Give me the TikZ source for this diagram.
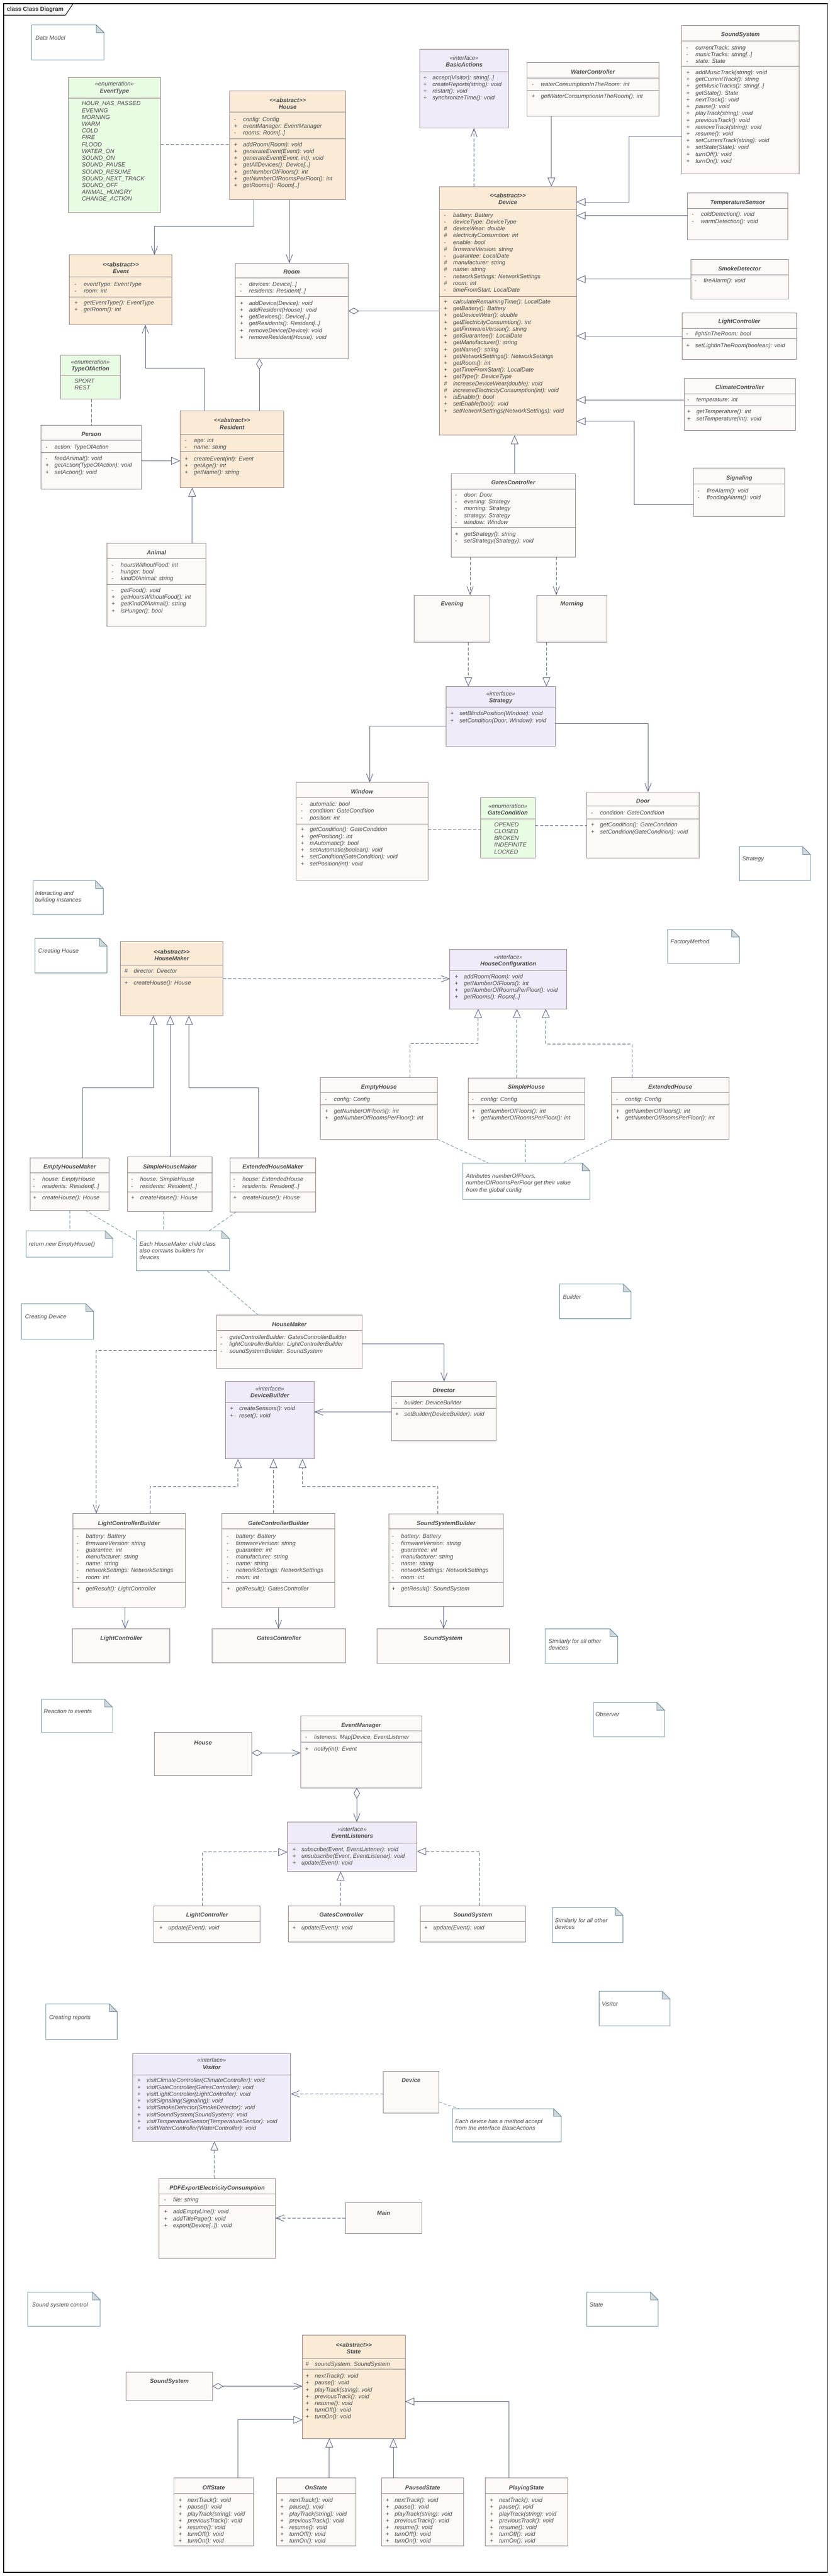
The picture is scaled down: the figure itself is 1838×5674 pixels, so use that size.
\documentclass[tikz,border=0pt]{standalone}
\usepackage{fontspec}
\newfontfamily\umlfont{Liberation Sans}
\usetikzlibrary{arrows.meta,calc}
\definecolor{clsline}{HTML}{8E7F83}
\definecolor{plainfill}{HTML}{FDF9F6}
\definecolor{abstfill}{HTML}{FAEAD6}
\definecolor{intffill}{HTML}{EFEBF8}
\definecolor{enumfill}{HTML}{E8FBE3}
\definecolor{linkc}{HTML}{5D6684}
\definecolor{notec}{HTML}{6B8FA0}
\definecolor{foldc}{HTML}{D4D8DB}
\definecolor{txtc}{HTML}{4B4B4B}
\definecolor{tipfill}{HTML}{FBF8F8}
\newcommand\vv[1]{\makebox[20pt][l]{\upshape #1}}
\newcommand\vP{\vv{+}}
\newcommand\vM{\vv{-}}
\newcommand\vH{\vv{\#}}
\newcommand\rows[1]{\begin{tabular}[t]{@{}l@{}}#1\end{tabular}}
\newcommand\hd[2]{\begin{tabular}[t]{@{}c@{}}#1\\#2\end{tabular}}
\newcommand\stp[1]{{\mdseries #1}}
\newcommand\ubox[6]{\pgfmathsetmacro\bw{#5-#3}\pgfmathsetmacro\bh{#6-#4}%
  \node[ubase,#2,minimum width=\bw pt,minimum height=\bh pt] (#1) at (#3,#4) {};}
\newcommand\usep[2]{\draw[usepl] (#1.west |- 0,#2) -- (#1.east |- 0,#2);}
\newcommand\unote[5]{\pgfmathsetmacro\bw{#4-#2}\pgfmathsetmacro\bh{#5-#3}%
  \node[anchor=north west,inner sep=0pt,outer sep=0pt,minimum width=\bw pt,minimum height=\bh pt] (#1) at (#2,#3) {};
  \draw[notel,fill=white] (#1.north west) -- ($(#1.north east)+(-17,0)$) -- ($(#1.north east)+(0,17)$) -- (#1.south east) -- (#1.south west) -- cycle;
  \draw[notel,fill=foldc,line join=round] ($(#1.north east)+(-17,0)$) -- ($(#1.north east)+(-17,17)$) -- ($(#1.north east)+(0,17)$) -- cycle;}
\tikzset{
 ubase/.style={anchor=north west,inner sep=0pt,outer sep=0pt,draw=clsline,line width=1.1pt},
 cplain/.style={fill=plainfill}, cabst/.style={fill=abstfill}, cintf/.style={fill=intffill}, cenum/.style={fill=enumfill},
 usepl/.style={draw=clsline,line width=1.1pt},
 uhead/.style={anchor=base,inner sep=0pt,text=txtc,font=\umlfont\bfseries\itshape\fontsize{12.8}{15}\selectfont},
 umem/.style={anchor=base west,inner sep=0pt,text=txtc,font=\umlfont\itshape\fontsize{12.8}{15}\selectfont},
 lnk/.style={draw=linkc,line width=1.1pt},
 dsh/.style={dash pattern=on 7pt off 4pt},
 assoc/.style={lnk,-{Straight Barb[length=18pt,width=14pt]}},
 gen/.style={lnk,-{Triangle[length=20pt,width=17pt,fill=tipfill]}},
 real/.style={lnk,dsh,-{Triangle[length=20pt,width=17pt,fill=tipfill]}},
 dep/.style={lnk,dsh,-{Straight Barb[length=18pt,width=14pt]}},
 aggr/.style={lnk,{Diamond[length=24pt,width=14pt,fill=tipfill]}-{Straight Barb[length=18pt,width=14pt]}},
 aggrn/.style={lnk,{Diamond[length=24pt,width=14pt,fill=tipfill]}-},
 dline/.style={lnk,dsh},
 nlink/.style={draw=notec,line width=1pt,dsh},
 notel/.style={draw=notec,line width=1.1pt},
}
\begin{document}
\begin{tikzpicture}[x=1pt,y=-1pt]
\useasboundingbox[fill=white] (0,0) rectangle (1838,5674);
% frame
\draw[black,line width=1.3pt] (8,8) rectangle (1822,5666);
\draw[black,line width=1.2pt] (8,33.5) -- (144,33.5) -- (161,8);
\node[anchor=base west,inner sep=0pt,text=black!85,font=\umlfont\bfseries\fontsize{12.8}{15}\selectfont] (title) at (15,24.5) {class Class Diagram};

% ================= Data model =================
\unote{ndatamodel}{70}{55}{229}{132}
\node[umem] (ndatamodel-t) at (78,87.5) {Data Model};

\ubox{eventtype}{cenum}{150}{171}{354}{468}
\usep{eventtype}{216.5}
\node[uhead] (eventtype-h) at (252,189.5) {\hd{\stp{«enumeration»}}{EventType}};
\node[umem] (eventtype-a) at (180,232.5) {\rows{HOUR\_HAS\_PASSED\\EVENING\\MORNING\\WARM\\COLD\\FIRE\\FLOOD\\WATER\_ON\\SOUND\_ON\\SOUND\_PAUSE\\SOUND\_RESUME\\SOUND\_NEXT\_TRACK\\SOUND\_OFF\\ANIMAL\_HUNGRY\\CHANGE\_ACTION}};

\ubox{house}{cabst}{506}{200}{761}{440}
\usep{house}{247}\usep{house}{306}
\node[uhead] (house-h) at (633.5,225) {\hd{<<abstract>>}{House}};
\node[umem] (house-a) at (515,267) {\rows{\vM config: Config\\\vP eventManager: EventManager\\\vM rooms: Room[..]}};
\node[umem] (house-o) at (515,322.5) {\rows{\vP addRoom(Room): void\\\vP generateEvent(Event): void\\\vP generateEvent(Event, int): void\\\vP getAllDevices(): Device[..]\\\vP getNumberOfFloors(): int\\\vP getNumberOfRoomsPerFloor(): int\\\vP getRooms(): Room[..]}};

\ubox{event}{cabst}{152.6}{561.6}{379}{715}
\usep{event}{610}\usep{event}{654}
\node[uhead] (event-h) at (266,587) {\hd{<<abstract>>}{Event}};
\node[umem] (event-a) at (164,630) {\rows{\vM eventType: EventType\\\vM room: int}};
\node[umem] (event-o) at (164,671) {\rows{\vP getEventType(): EventType\\\vP getRoom(): int}};

\ubox{room}{cplain}{517.6}{580}{767}{790}
\usep{room}{612.5}\usep{room}{652.7}
\node[uhead] (room-h) at (642,603.5) {Room};
\node[umem] (room-a) at (528,630.5) {\rows{\vM devices: Device[..]\\\vM residents: Resident[..]}};
\node[umem] (room-o) at (528,672) {\rows{\vP addDevice(Device): void\\\vP addResident(House): void\\\vP getDevices(): Device[..]\\\vP getResidents(): Resident[..]\\\vP removeDevice(Device): void\\\vP removeResident(House): void}};

\ubox{basic}{cintf}{924.7}{108.5}{1119}{282}
\usep{basic}{158}
\node[uhead] (basic-h) at (1022,132) {\hd{\stp{«interface»}}{BasicActions}};
\node[umem] (basic-o) at (932,175) {\rows{\vP accept(Visitor): string[..]\\\vP createReports(string): void\\\vP restart(): void\\\vP synchronizeTime(): void}};

\ubox{water}{cplain}{1160}{138}{1451}{256}
\usep{water}{172}\usep{water}{198.7}
\node[uhead] (water-h) at (1305.5,162.5) {WaterController};
\node[umem] (water-a) at (1170.6,190) {\rows{\vM waterConsumptionInTheRoom: int}};
\node[umem] (water-o) at (1170.6,216) {\rows{\vP getWaterConsumptionInTheRoom(): int}};

\ubox{sound}{cplain}{1501}{56}{1759}{382.6}
\usep{sound}{90}\usep{sound}{146}
\node[uhead] (sound-h) at (1630,80.5) {SoundSystem};
\node[umem] (sound-a) at (1511,109) {\rows{\vM currentTrack: string\\\vM musicTracks: string[..]\\\vM state: State}};
\node[umem] (sound-o) at (1511,164) {\rows{\vP addMusicTrack(string): void\\\vP getCurrentTrack(): string\\\vP getMusicTracks(): string[..]\\\vP getState(): State\\\vP nextTrack(): void\\\vP pause(): void\\\vP playTrack(string): void\\\vP previousTrack(): void\\\vP removeTrack(string): void\\\vP resume(): void\\\vP setCurrentTrack(string): void\\\vP setState(State): void\\\vP turnOff(): void\\\vP turnOn(): void}};

\ubox{device}{cabst}{967}{411}{1269}{958.7}
\usep{device}{461}\usep{device}{652.7}
\node[uhead] (device-h) at (1118,435.5) {\hd{<<abstract>>}{Device}};
\node[umem] (device-a) at (977.4,478) {\rows{\vM battery: Battery\\\vM deviceType: DeviceType\\\vH deviceWear: double\\\vH electricityConsumtion: int\\\vM enable: bool\\\vH firmwareVersion: string\\\vM guarantee: LocalDate\\\vH manufacturer: string\\\vH name: string\\\vM networkSettings: NetworkSettings\\\vH room: int\\\vM timeFromStart: LocalDate}};
\node[umem] (device-o) at (977.4,669) {\rows{\vP calculateRemainingTime(): LocalDate\\\vP getBattery(): Battery\\\vP getDeviceWear(): double\\\vP getElectricityConsumtion(): int\\\vP getFirmwareVersion(): string\\\vP getGuarantee(): LocalDate\\\vP getManufacturer(): string\\\vP getName(): string\\\vP getNetworkSettings(): NetworkSettings\\\vP getRoom(): int\\\vP getTimeFromStart(): LocalDate\\\vP getType(): DeviceType\\\vH increaseDeviceWear(double): void\\\vH increaseElectricityConsumption(int): void\\\vP isEnable(): bool\\\vP setEnable(bool): void\\\vP setNetworkSettings(NetworkSettings): void}};

\ubox{temp}{cplain}{1513.7}{425}{1734}{528}
\usep{temp}{458.5}
\node[uhead] (temp-h) at (1624,449.5) {TemperatureSensor};
\node[umem] (temp-o) at (1523,476.5) {\rows{\vM coldDetection(): void\\\vM warmDetection(): void}};

\ubox{smoke}{cplain}{1521}{571.4}{1735.6}{658.5}
\usep{smoke}{605}
\node[uhead] (smoke-h) at (1628,596) {SmokeDetector};
\node[umem] (smoke-o) at (1529,622.5) {\rows{\vM fireAlarm(): void}};

\ubox{light}{cplain}{1502}{689}{1753.5}{791}
\usep{light}{723.4}\usep{light}{745.7}
\node[uhead] (light-h) at (1627.7,712.5) {LightController};
\node[umem] (light-a) at (1510.6,739.5) {\rows{\vM lightInTheRoom: bool}};
\node[umem] (light-o) at (1510.6,765.5) {\rows{\vP setLightInTheRoom(boolean): void}};

\ubox{climate}{cplain}{1506}{833}{1751}{948.5}
\usep{climate}{867.5}\usep{climate}{894}
\node[uhead] (climate-h) at (1628.5,857.5) {ClimateController};
\node[umem] (climate-a) at (1513,884.5) {\rows{\vM temperature: int}};
\node[umem] (climate-o) at (1513,911) {\rows{\vP getTemperature(): int\\\vP setTemperature(int): void}};

\ubox{signal}{cplain}{1527}{1031}{1728}{1138}
\usep{signal}{1066}
\node[uhead] (signal-h) at (1627.5,1057.5) {Signaling};
\node[umem] (signal-o) at (1536,1085.5) {\rows{\vM fireAlarm(): void\\\vM floodingAlarm(): void}};

\ubox{gates}{cplain}{993}{1043}{1266.6}{1227}
\usep{gates}{1078}\usep{gates}{1161.5}
\node[uhead] (gates-h) at (1130,1067) {GatesController};
\node[umem] (gates-a) at (1001.7,1094.5) {\rows{\vM door: Door\\\vM evening: Strategy\\\vM morning: Strategy\\\vM strategy: Strategy\\\vM window: Window}};
\node[umem] (gates-o) at (1001.7,1180.5) {\rows{\vP getStrategy(): string\\\vM setStrategy(Strategy): void}};

\ubox{evening}{cplain}{912}{1311}{1079}{1415}
\node[uhead] (evening-h) at (995.5,1334.5) {Evening};
\ubox{morning}{cplain}{1182}{1311}{1336.6}{1415}
\node[uhead] (morning-h) at (1259,1334.5) {Morning};

\ubox{strategy}{cintf}{982}{1512}{1223}{1643.6}
\usep{strategy}{1558}
\node[uhead] (strategy-h) at (1102.5,1532.5) {\hd{\stp{«interface»}}{Strategy}};
\node[umem] (strategy-o) at (991.5,1576) {\rows{\vP setBlindsPosition(Window): void\\\vP setCondition(Door, Window): void}};

\ubox{typeact}{cenum}{133}{782}{265}{879}
\usep{typeact}{827}
\node[uhead] (typeact-h) at (199,801.5) {\hd{\stp{«enumeration»}}{TypeOfAction}};
\node[umem] (typeact-a) at (164,843.5) {\rows{SPORT\\REST}};

\ubox{person}{cplain}{90.6}{937}{311}{1078}
\usep{person}{970}\usep{person}{997}
\node[uhead] (person-h) at (201,960.5) {Person};
\node[umem] (person-a) at (100,988.5) {\rows{\vM action: TypeOfAction}};
\node[umem] (person-o) at (100,1014.2) {\rows{\vM feedAnimal(): void\\\vP getAction(TypeOfAction): void\\\vP setAction(): void}};

\ubox{resident}{cabst}{397}{905}{624.6}{1074}
\usep{resident}{957}\usep{resident}{995}
\node[uhead] (resident-h) at (511,930.5) {\hd{<<abstract>>}{Resident}};
\node[umem] (resident-a) at (406.6,974) {\rows{\vM age: int\\\vM name: string}};
\node[umem] (resident-o) at (406.6,1014.5) {\rows{\vP createEvent(int): Event\\\vP getAge(): int\\\vP getName(): string}};

\ubox{animal}{cplain}{236}{1197}{453}{1379.6}
\usep{animal}{1231}\usep{animal}{1287}
\node[uhead] (animal-h) at (344.5,1221.5) {Animal};
\node[umem] (animal-a) at (245.6,1248.3) {\rows{\vM hoursWithoutFood: int\\\vM hunger: bool\\\vM kindOfAnimal: string}};
\node[umem] (animal-o) at (245.6,1304.5) {\rows{\vM getFood(): void\\\vP getHoursWithoutFood(): int\\\vP getKindOfAnimal(): string\\\vP isHunger(): bool}};

\ubox{window}{cplain}{652}{1723.7}{942.6}{1939}
\usep{window}{1757.7}\usep{window}{1815}
\node[uhead] (window-h) at (797,1748.5) {Window};
\node[umem] (window-a) at (662,1775.5) {\rows{\vM automatic: bool\\\vM condition: GateCondition\\\vM position: int}};
\node[umem] (window-o) at (662,1831.5) {\rows{\vP getCondition(): GateCondition\\\vP getPosition(): int\\\vP isAutomatic(): bool\\\vP setAutomatic(boolean): void\\\vP setCondition(GateCondition): void\\\vP setPosition(int): void}};

\ubox{gatecond}{cenum}{1058.6}{1757.7}{1178}{1890}
\usep{gatecond}{1804}
\node[uhead] (gatecond-h) at (1118,1779.5) {\hd{\stp{«enumeration»}}{GateCondition}};
\node[umem] (gatecond-a) at (1088,1820.5) {\rows{OPENED\\CLOSED\\BROKEN\\INDEFINITE\\LOCKED}};

\ubox{door}{cplain}{1292}{1744.6}{1539}{1890.5}
\usep{door}{1775.5}\usep{door}{1803.7}
\node[uhead] (door-h) at (1415.5,1768) {Door};
\node[umem] (door-a) at (1301,1795) {\rows{\vM condition: GateCondition}};
\node[umem] (door-o) at (1301,1821.3) {\rows{\vP getCondition(): GateCondition\\\vP setCondition(GateCondition): void}};

\unote{nstrategy}{1628}{1865}{1784}{1940}
\node[umem] (nstrategy-t) at (1634,1896) {Strategy};
\unote{ninteract}{72.7}{1940}{227.4}{2015}
\node[umem] (ninteract-t) at (77,1971.5) {\rows{Interacting and\\building instances}};

% connectors data model
\draw[dline] (eventtype.east |- 0,318) -- (house.west |- 0,318);
\draw[assoc] (house.south -| 559,0) -- ++(0,59) -| (event.north -| 340,0);
\draw[assoc] (house.south -| 637,0) -- (room.north -| 637,0);
\draw[aggrn] (room.east |- 0,685) -- (device.west |- 0,685);
\draw[dep] (device.north -| 1043.5,0) -- (basic.south -| 1043.5,0);
\draw[gen] (water.south -| 1214,0) -- (device.north -| 1214,0);
\draw[gen] (sound.west |- 0,300.4) -| (1385.5,445) -- (device.east |- 0,445);
\draw[gen] (temp.west |- 0,475) -- (device.east |- 0,475);
\draw[gen] (smoke.west |- 0,615) -- (device.east |- 0,615);
\draw[gen] (light.west |- 0,740) -- (device.east |- 0,740);
\draw[gen] (climate.west |- 0,881) -- (device.east |- 0,881);
\draw[gen] (signal.west |- 0,1112) -| (1396,928) -- (device.east |- 0,928);
\draw[gen] (gates.north -| 1133,0) -- (device.south -| 1133,0);
\draw[aggrn] (room.south -| 571,0) -- (resident.north -| 571,0);
\draw[assoc] (resident.north -| 450,0) -- (450,810.7) -| (event.south -| 320,0);
\draw[dline] (typeact.south -| 201.5,0) -- (person.north -| 201.5,0);
\draw[gen] (person.east |- 0,1015) -- (resident.west |- 0,1015);
\draw[gen] (animal.north -| 423,0) -- (resident.south -| 423,0);
\draw[dep] (gates.south -| 1035,0) -- (evening.north -| 1035,0);
\draw[dep] (gates.south -| 1224.8,0) -- (morning.north -| 1224.8,0);
\draw[real] (evening.south -| 1031,0) -- (strategy.north -| 1031,0);
\draw[real] (morning.south -| 1203,0) -- (strategy.north -| 1203,0);
\draw[assoc] (strategy.west |- 0,1600) -| (window.north -| 814,0);
\draw[assoc] (strategy.east |- 0,1594) -| (door.north -| 1426.7,0);
\draw[dline] (window.east |- 0,1826) -- (gatecond.west |- 0,1826);
\draw[dline] (gatecond.east |- 0,1819) -- (door.west |- 0,1819);

% ================= Creating house =================
\unote{ncreatehouse}{77}{2066.8}{235.6}{2143}
\node[umem] (ncreatehouse-t) at (84,2099) {Creating House};
\unote{nfactory}{1470}{2047}{1628}{2122}
\node[umem] (nfactory-t) at (1476,2078.5) {FactoryMethod};

\ubox{hmaker}{cabst}{265}{2074}{491}{2237}
\usep{hmaker}{2126}\usep{hmaker}{2152}
\node[uhead] (hmaker-h) at (378,2100.5) {\hd{<<abstract>>}{HouseMaker}};
\node[umem] (hmaker-a) at (274,2143) {\rows{\vH director: Director}};
\node[umem] (hmaker-o) at (274,2169) {\rows{\vP createHouse(): House}};

\ubox{hconf}{cintf}{990.6}{2091}{1247.5}{2222}
\usep{hconf}{2137}
\node[uhead] (hconf-h) at (1119,2112.5) {\hd{\stp{«interface»}}{HouseConfiguration}};
\node[umem] (hconf-o) at (1001,2155.2) {\rows{\vP addRoom(Room): void\\\vP getNumberOfFloors(): int\\\vP getNumberOfRoomsPerFloor(): void\\\vP getRooms(): Room[..]}};

\ubox{ehouse}{cplain}{705.7}{2373.8}{962.5}{2509}
\usep{ehouse}{2406.7}\usep{ehouse}{2434}
\node[uhead] (ehouse-h) at (834,2398.2) {EmptyHouse};
\node[umem] (ehouse-a) at (715,2426) {\rows{\vM config: Config}};
\node[umem] (ehouse-o) at (715,2452) {\rows{\vP getNumberOfFloors(): int\\\vP getNumberOfRoomsPerFloor(): int}};

\ubox{shouse}{cplain}{1030.5}{2374}{1287}{2509}
\usep{shouse}{2406.7}\usep{shouse}{2434}
\node[uhead] (shouse-h) at (1158.7,2398.2) {SimpleHouse};
\node[umem] (shouse-a) at (1038.7,2426) {\rows{\vM config: Config}};
\node[umem] (shouse-o) at (1038.7,2452) {\rows{\vP getNumberOfFloors(): int\\\vP getNumberOfRoomsPerFloor(): int}};

\ubox{xhouse}{cplain}{1346}{2373}{1605}{2509}
\usep{xhouse}{2406.7}\usep{xhouse}{2434}
\node[uhead] (xhouse-h) at (1475.5,2398.2) {ExtendedHouse};
\node[umem] (xhouse-a) at (1356.4,2426) {\rows{\vM config: Config}};
\node[umem] (xhouse-o) at (1356.4,2452) {\rows{\vP getNumberOfFloors(): int\\\vP getNumberOfRoomsPerFloor(): int}};

\ubox{ehm}{cplain}{66.8}{2550.6}{240}{2666}
\usep{ehm}{2582.8}\usep{ehm}{2625}
\node[uhead] (ehm-h) at (153.4,2574) {EmptyHouseMaker};
\node[umem] (ehm-a) at (72.7,2602) {\rows{\vM house: EmptyHouse\\\vM residents: Resident[..]}};
\node[umem] (ehm-o) at (72.7,2642.8) {\rows{\vP createHouse(): House}};

\ubox{shm}{cplain}{281.4}{2548}{466.6}{2668}
\usep{shm}{2582.8}\usep{shm}{2625}
\node[uhead] (shm-h) at (374,2574) {SimpleHouseMaker};
\node[umem] (shm-a) at (288.4,2602) {\rows{\vM house: SimpleHouse\\\vM residents: Resident[..]}};
\node[umem] (shm-o) at (288.4,2642.8) {\rows{\vP createHouse(): House}};

\ubox{xhm}{cplain}{506.4}{2550}{695}{2669}
\usep{xhm}{2582.8}\usep{xhm}{2625}
\node[uhead] (xhm-h) at (600.7,2574) {ExtendedHouseMaker};
\node[umem] (xhm-a) at (513.5,2602) {\rows{\vM house: ExtendedHouse\\\vM residents: Resident[..]}};
\node[umem] (xhm-o) at (513.5,2642.8) {\rows{\vP createHouse(): House}};

\unote{nreturn}{57.4}{2711}{248.5}{2769}
\node[umem] (nreturn-t) at (63.3,2744.5) {return new EmptyHouse()};
\unote{neach}{300}{2711}{505}{2799}
\node[umem] (neach-t) at (307,2744.5) {\rows{Each HouseMaker child class\\also contains builders for\\devices}};
\unote{nattr}{1018.8}{2562}{1299}{2642}
\node[umem] (nattr-t) at (1025.8,2595) {\rows{Attributes numberOfFloors,\\numberOfRoomsPerFloor get their value\\from the global config}};
\unote{nbuilder}{1232}{2828}{1389}{2904.6}
\node[umem] (nbuilder-t) at (1239,2861) {Builder};

\draw[dep] (hmaker.east |- 0,2156) -- (hconf.west |- 0,2156);
\draw[real] (ehouse.north -| 902.7,0) -- (902.7,2298) -| (hconf.south -| 1052.7,0);
\draw[real] (shouse.north -| 1138,0) -- (hconf.south -| 1138,0);
\draw[real] (xhouse.north -| 1391.6,0) -- (1391.6,2299.5) -| (hconf.south -| 1201.6,0);
\draw[gen] (ehm.north -| 181.7,0) -- (181.7,2395.7) -| (hmaker.south -| 337.6,0);
\draw[gen] (shm.north -| 375,0) -- (hmaker.south -| 375,0);
\draw[gen] (xhm.north -| 568.6,0) -- (568.6,2395.7) -| (hmaker.south -| 416,0);
\draw[nlink] (ehouse.south east) -- (nattr.north -| 1076,0);
\draw[nlink] (shouse.south -| 1157,0) -- (nattr.north -| 1157,0);
\draw[nlink] (xhouse.south west) -- (nattr.north -| 1239,0);
\draw[nlink] (ehm.south -| 153.6,0) -- (nreturn.north -| 153.6,0);
\draw[nlink] (ehm.south -| 187.6,0) -- (neach.west |- 0,2732);
\draw[nlink] (shm.south -| 360,0) -- (neach.north -| 360,0);
\draw[nlink] (xhm.south -| 520.5,0) -- (neach.north -| 460.7,0);

% ================= Creating device =================
\unote{ncdevice}{47}{2871.6}{206}{2949.6}
\node[umem] (ncdevice-t) at (55,2905) {Creating Device};

\ubox{hmd}{cplain}{477}{2896.8}{797}{3014}
\usep{hmd}{2931}
\node[uhead] (hmd-h) at (637,2922) {HouseMaker};
\node[umem] (hmd-a) at (485,2950) {\rows{\vM gateControllerBuilder: GatesControllerBuilder\\\vM lightControllerBuilder: LightControllerBuilder\\\vM soundSystemBuilder: SoundSystem}};

\ubox{dbuilder}{cintf}{496}{3043}{691.7}{3213.5}
\usep{dbuilder}{3089.7}
\node[uhead] (dbuilder-h) at (594,3063.5) {\hd{\stp{«interface»}}{DeviceBuilder}};
\node[umem] (dbuilder-o) at (506.4,3107) {\rows{\vP createSensors(): void\\\vP reset(): void}};

\ubox{director}{cplain}{861.7}{3043}{1092.6}{3173.5}
\usep{director}{3076}\usep{director}{3101.6}
\node[uhead] (director-h) at (977,3067) {Director};
\node[umem] (director-a) at (870,3093.5) {\rows{\vM builder: DeviceBuilder}};
\node[umem] (director-o) at (870,3119.5) {\rows{\vP setBuilder(DeviceBuilder): void}};

\ubox{lcb}{cplain}{160.6}{3333.8}{408}{3539.4}
\usep{lcb}{3368}\usep{lcb}{3485}
\node[uhead] (lcb-h) at (284,3359.5) {LightControllerBuilder};
\node[umem] (lcb-a) at (168.8,3388.3) {\rows{\vM battery: Battery\\\vM firmwareVersion: string\\\vM guarantee: int\\\vM manufacturer: string\\\vM name: string\\\vM networkSettings: NetworkSettings\\\vM room: int}};
\node[umem] (lcb-o) at (168.8,3504) {\rows{\vP getResult(): LightController}};

\ubox{gcb}{cplain}{488.9}{3333}{737.4}{3541}
\usep{gcb}{3368}\usep{gcb}{3485}
\node[uhead] (gcb-h) at (613,3359.5) {GateControllerBuilder};
\node[umem] (gcb-a) at (499,3388.3) {\rows{\vM battery: Battery\\\vM firmwareVersion: string\\\vM guarantee: int\\\vM manufacturer: string\\\vM name: string\\\vM networkSettings: NetworkSettings\\\vM room: int}};
\node[umem] (gcb-o) at (499,3504) {\rows{\vP getResult(): GatesController}};

\ubox{ssb}{cplain}{855.8}{3335}{1108}{3538.5}
\usep{ssb}{3368}\usep{ssb}{3485}
\node[uhead] (ssb-h) at (982,3359.5) {SoundSystemBuilder};
\node[umem] (ssb-a) at (862.8,3388.3) {\rows{\vM battery: Battery\\\vM firmwareVersion: string\\\vM guarantee: int\\\vM manufacturer: string\\\vM name: string\\\vM networkSettings: NetworkSettings\\\vM room: int}};
\node[umem] (ssb-o) at (862.8,3504) {\rows{\vP getResult(): SoundSystem}};

\ubox{plc}{cplain}{159.4}{3587.7}{374}{3663}
\node[uhead] (plc-h) at (267,3612.8) {LightController};
\ubox{pgc}{cplain}{466.6}{3587.7}{760.8}{3663}
\node[uhead] (pgc-h) at (614,3612.8) {GatesController};
\ubox{pss}{cplain}{830}{3587.7}{1122}{3664}
\node[uhead] (pss-h) at (975.4,3612.8) {SoundSystem};
\unote{nsim1}{1200.5}{3587.7}{1360}{3664}
\node[umem] (nsim1-t) at (1207.5,3619.5) {\rows{Similarly for all other\\devices}};

\draw[nlink] (neach.south -| 456,0) -- (hmd.north -| 568.6,0);
\draw[assoc] (hmd.east |- 0,2960.6) -| (director.north -| 977.7,0);
\draw[dep] (hmd.west |- 0,2975) -| (lcb.north -| 212,0);
\draw[assoc] (director.west |- 0,3110) -- (dbuilder.east |- 0,3110);
\draw[real] (lcb.north -| 330.6,0) -- (330.6,3274) -| (dbuilder.south -| 524,0);
\draw[real] (gcb.north -| 602,0) -- (dbuilder.south -| 602,0);
\draw[real] (ssb.north -| 963.7,0) -- (963.7,3274) -| (dbuilder.south -| 666,0);
\draw[assoc] (lcb.south -| 275.5,0) -- (plc.north -| 275.5,0);
\draw[assoc] (gcb.south -| 613,0) -- (pgc.north -| 613,0);
\draw[assoc] (ssb.south -| 976.6,0) -- (pss.north -| 976.6,0);

% ================= Observer =================
\unote{nreact}{91.4}{3742.8}{247.4}{3816}
\node[umem] (nreact-t) at (96,3774) {Reaction to events};
\unote{nobserver}{1307}{3749.7}{1463}{3825.5}
\node[umem] (nobserver-t) at (1310.7,3781) {Observer};

\ubox{ohouse}{cplain}{340}{3816}{554}{3911}
\node[uhead] (ohouse-h) at (447,3842.5) {House};
\ubox{emanager}{cplain}{662}{3779}{928.5}{3938}
\usep{emanager}{3812.6}\usep{emanager}{3837.4}
\node[uhead] (emanager-h) at (795,3804.3) {EventManager};
\node[umem] (emanager-a) at (671.7,3831) {\rows{\vM listeners: Map[Device, EventListener}};
\node[umem] (emanager-o) at (671.7,3856.5) {\rows{\vP notify(int): Event}};

\ubox{elisten}{cintf}{633}{4013.5}{918}{4122}
\usep{elisten}{4059.5}
\node[uhead] (elisten-h) at (775.5,4033.5) {\hd{\stp{«interface»}}{EventListeners}};
\node[umem] (elisten-o) at (643.6,4077.5) {\rows{\vP subscribe(Event, EventListener): void\\\vP unsubscribe(Event, EventListener): void\\\vP update(Event): void}};

\ubox{olc}{cplain}{338.8}{4198}{573}{4278.5}
\usep{olc}{4232.6}
\node[uhead] (olc-h) at (456,4222.5) {LightController};
\node[umem] (olc-o) at (350.5,4250) {\rows{\vP update(Event): void}};
\ubox{ogc}{cplain}{635.4}{4198}{867.5}{4278}
\usep{ogc}{4232.6}
\node[uhead] (ogc-h) at (751.5,4222.5) {GatesController};
\node[umem] (ogc-o) at (643.6,4250) {\rows{\vP update(Event): void}};
\ubox{oss}{cplain}{925}{4198}{1157}{4278}
\usep{oss}{4232.6}
\node[uhead] (oss-h) at (1041,4222.5) {SoundSystem};
\node[umem] (oss-o) at (934,4250) {\rows{\vP update(Event): void}};
\unote{nsim2}{1215.7}{4201.8}{1371.6}{4278.5}
\node[umem] (nsim2-t) at (1221.6,4234.3) {\rows{Similarly for all other\\devices}};

\draw[aggr] (ohouse.east |- 0,3861) -- (emanager.west |- 0,3861);
\draw[aggr] (emanager.south -| 785.5,0) -- (elisten.north -| 785.5,0);
\draw[real] (olc.north -| 445.5,0) |- (elisten.west |- 0,4079.5);
\draw[real] (ogc.north -| 750,0) -- (elisten.south -| 750,0);
\draw[real] (oss.north -| 1056,0) |- (elisten.east |- 0,4078);

% ================= Visitor =================
\unote{nreports}{100.8}{4414}{258}{4492}
\node[umem] (nreports-t) at (107.9,4447.5) {Creating reports};
\unote{nvisitor}{1319}{4386}{1475}{4462}
\node[umem] (nvisitor-t) at (1324.7,4418.5) {Visitor};

\ubox{visitor}{cintf}{292}{4522.7}{640}{4716.8}
\usep{visitor}{4570}
\node[uhead] (visitor-h) at (466,4542.5) {\hd{\stp{«interface»}}{Visitor}};
\node[umem] (visitor-o) at (302.5,4586.7) {\rows{\vP visitClimateController(ClimateController): void\\\vP visitGateController(GatesController): void\\\vP visitLightController(LightController): void\\\vP visitSignaling(Signaling): void\\\vP visitSmokeDetector(SmokeDetector): void\\\vP visitSoundSystem(SoundSystem): void\\\vP visitTemperatureSensor(TemperatureSensor): void\\\vP visitWaterController(WaterController): void}};

\ubox{vdevice}{cplain}{844}{4562}{966}{4654}
\node[uhead] (vdevice-h) at (905,4585.8) {Device};
\unote{naccept}{996.5}{4644.7}{1235.6}{4718}
\node[umem] (naccept-t) at (1002,4677.2) {\rows{Each device has a method accept\\from the interface BasicActions}};

\ubox{pdf}{cplain}{350.5}{4798}{606}{4974}
\usep{pdf}{4832.5}\usep{pdf}{4857.3}
\node[uhead] (pdf-h) at (478,4823.2) {PDFExportElectricityConsumption};
\node[umem] (pdf-a) at (361,4849.8) {\rows{\vM file: string}};
\node[umem] (pdf-o) at (361,4876) {\rows{\vP addEmptyLine(): void\\\vP addTitlePage(): void\\\vP export(Device[..]): void}};

\ubox{mainb}{cplain}{760.8}{4852}{928.5}{4920}
\node[uhead] (mainb-h) at (844.6,4878.5) {Main};

\draw[dep] (vdevice.west |- 0,4612) -- (visitor.east |- 0,4612);
\draw[nlink] (vdevice.east |- 0,4630) -- (naccept.north -| 1010.5,0);
\draw[real] (pdf.north -| 472,0) -- (visitor.south -| 472,0);
\draw[dep] (mainb.west |- 0,4885.7) -- (pdf.east |- 0,4885.7);

% ================= State =================
\unote{nsound}{61}{5048.7}{220.4}{5124}
\node[umem] (nsound-t) at (70.3,5080.5) {Sound system control};
\unote{nstate}{1292}{5048.7}{1449}{5124}
\node[umem] (nstate-t) at (1297.8,5080.5) {State};

\ubox{state}{cabst}{666}{5143.8}{892}{5371}
\usep{state}{5194}\usep{state}{5218.6}
\node[uhead] (state-h) at (779,5169.8) {\hd{<<abstract>>}{State}};
\node[umem] (state-a) at (673,5211.5) {\rows{\vH soundSystem: SoundSystem}};
\node[umem] (state-o) at (673,5237.8) {\rows{\vP nextTrack(): void\\\vP pause(): void\\\vP playTrack(string): void\\\vP previousTrack(): void\\\vP resume(): void\\\vP turnOff(): void\\\vP turnOn(): void}};

\ubox{sss}{cplain}{277.8}{5225.5}{468}{5288}
\node[uhead] (sss-h) at (372.8,5248.8) {SoundSystem};

\ubox{offst}{cplain}{383}{5457.7}{558}{5607.7}
\usep{offst}{5491.3}
\node[uhead] (offst-h) at (470.5,5483.5) {OffState};
\node[umem] (offst-o) at (392.9,5511.2) {\rows{\vP nextTrack(): void\\\vP pause(): void\\\vP playTrack(string): void\\\vP previousTrack(): void\\\vP resume(): void\\\vP turnOff(): void\\\vP turnOn(): void}};
\ubox{onst}{cplain}{609}{5457.7}{783}{5607.7}
\usep{onst}{5491.3}
\node[uhead] (onst-h) at (696,5483.5) {OnState};
\node[umem] (onst-o) at (617,5511.2) {\rows{\vP nextTrack(): void\\\vP pause(): void\\\vP playTrack(string): void\\\vP previousTrack(): void\\\vP resume(): void\\\vP turnOff(): void\\\vP turnOn(): void}};
\ubox{pausedst}{cplain}{840}{5457.7}{1021}{5607.7}
\usep{pausedst}{5491.3}
\node[uhead] (pausedst-h) at (930.5,5483.5) {PausedState};
\node[umem] (pausedst-o) at (849,5511.2) {\rows{\vP nextTrack(): void\\\vP pause(): void\\\vP playTrack(string): void\\\vP previousTrack(): void\\\vP resume(): void\\\vP turnOff(): void\\\vP turnOn(): void}};
\ubox{playst}{cplain}{1068}{5457.7}{1250}{5607.7}
\usep{playst}{5491.3}
\node[uhead] (playst-h) at (1159,5483.5) {PlayingState};
\node[umem] (playst-o) at (1078.6,5511.2) {\rows{\vP nextTrack(): void\\\vP pause(): void\\\vP playTrack(string): void\\\vP previousTrack(): void\\\vP resume(): void\\\vP turnOff(): void\\\vP turnOn(): void}};

\draw[aggr] (sss.east |- 0,5256) -- (state.west |- 0,5256);
\draw[gen] (offst.north -| 524,0) |- (state.west |- 0,5330);
\draw[gen] (onst.north -| 725,0) -- (state.south -| 725,0);
\draw[gen] (pausedst.north -| 866,0) -- (state.south -| 866,0);
\draw[gen] (playst.north -| 1120.5,0) |- (state.east |- 0,5289.7);
\end{tikzpicture}
\end{document}
